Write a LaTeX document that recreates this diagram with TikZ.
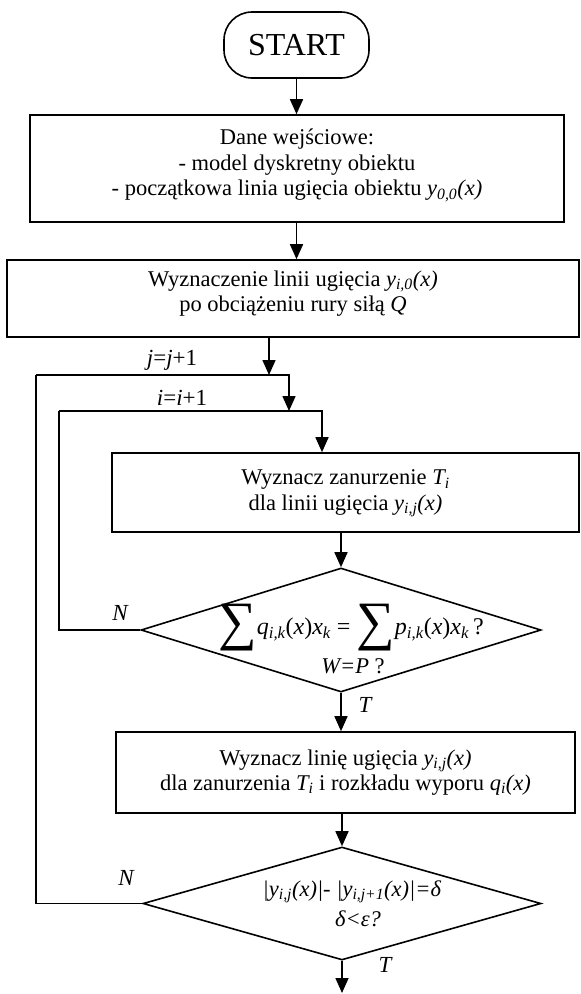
\documentclass[tikz,border=0pt]{standalone}
\usepackage{fontspec}
\setmainfont{Liberation Serif}
\usetikzlibrary{arrows.meta,shapes.geometric,calc}
\newcommand{\sbs}[1]{\textsubscript{\itshape #1}}
\newcommand{\bigsum}{{\fontsize{54}{54}\selectfont\raisebox{-5.5pt}{∑}}}
\begin{document}
\begin{tikzpicture}[x=1pt,y=-1pt,line width=1.6pt,
  txt/.style={font=\fontsize{22.5}{25.5}\selectfont, align=center, inner sep=0pt},
  ftxt/.style={font=\fontsize{24}{26}\selectfont, align=center, inner sep=0pt},
  box/.style={draw, rectangle, inner sep=0pt},
  dia/.style={draw, diamond, inner sep=0pt},
  arr/.style={-{Triangle[length=15pt,width=13pt]}},
  lbl/.style={font=\fontsize{23}{25}\selectfont\itshape, inner sep=0pt}]
\useasboundingbox (0,0) rectangle (581,994);

\node[draw, rounded corners=28pt, minimum width=145pt, minimum height=66pt,
      inner sep=0pt, font=\fontsize{32}{32}\selectfont] (start) at (296.5,45) {START};

\node[box, minimum width=534pt, minimum height=107pt,
  label={[txt, yshift=3pt]center:{Dane wejściowe:\\- model dyskretny obiektu\\- początkowa linia ugięcia obiektu \textit{y\sbs{0,0}(x)}}}]
  (b1) at (297,168.5) {};

\node[box, minimum width=572pt, minimum height=77pt,
  label={[txt, yshift=5pt]center:{Wyznaczenie linii ugięcia \textit{y\sbs{i,0}(x)}\\po obciążeniu rury siłą \textit{Q}}}]
  (b2) at (293,298.5) {};

\node[box, minimum width=467pt, minimum height=79pt,
  label={[txt, yshift=-1pt]center:{Wyznacz zanurzenie \textit{T\sbs{i}}\\dla linii ugięcia \textit{y\sbs{i,j}(x)}}}]
  (b3) at (345.5,492.5) {};

\node[dia, minimum width=400pt, minimum height=124pt,
  label={[ftxt, xshift=10pt, yshift=2pt]center:{\bigsum\textit{q}\sbs{i,k}(\textit{x})\textit{x}\sbs{k} = \bigsum\textit{p}\sbs{i,k}(\textit{x})\textit{x}\sbs{k}\,?}},
  label={[txt, xshift=12pt, yshift=-36pt]center:{\textit{W=P} ?}}]
  (d1) at (341,630) {};

\node[box, minimum width=459pt, minimum height=81pt,
  label={[txt, yshift=0pt]center:{Wyznacz linię ugięcia \textit{y\sbs{i,j}(x)}\\dla zanurzenia \textit{T\sbs{i}} i rozkładu wyporu \textit{q\sbs{i}(x)}}}]
  (b4) at (345.5,772.5) {};

\node[dia, minimum width=398pt, minimum height=113pt,
  label={[txt, xshift=10pt, yshift=12pt]center:{\textit{|y\sbs{i,j}(x)|- |y\sbs{i,j+1}(x)|=δ}}},
  label={[txt, xshift=16pt, yshift=-15.5pt]center:{\textit{δ<ε?}}}]
  (d2) at (342,903.5) {};

\coordinate (jin) at (269,375);
\coordinate (jl) at (36,375);
\coordinate (jr) at (289,375);
\coordinate (il) at (59,411);
\coordinate (ir) at (322,411);
\coordinate (stop) at (342,993);

\node[lbl] (jlab) at (172,360) {j\upshape=\itshape j\upshape+1};
\node[lbl] (ilab) at (182,398) {i\upshape=\itshape i\upshape+1};
\node[lbl] (n1) at (120,613) {N};
\node[lbl] (t1) at (365,705) {T};
\node[lbl] (n2) at (126,878) {N};
\node[lbl] (t2) at (385,965) {T};

\draw[arr] (start.south) -- (start.south |- b1.north);
\draw[arr] (b1.south -| start.south) -- (start.south |- b2.north);
\draw[arr] (b2.south -| jin) -- (jin);
\draw[arr] (jl) -- (jr) -- (jr |- il);
\draw[arr] (il) -- (ir) -- (ir |- b3.north);
\draw[arr] (b3.south -| d1.north) -- (d1.north);
\draw (d1.west) -- (d1.west -| il) -- (il);
\draw[arr] (d1.south) -- (d1.south |- b4.north);
\draw[arr] (b4.south -| d2.north) -- (d2.north);
\draw (d2.west) -- (d2.west -| jl) -- (jl);
\draw[arr] (d2.south) -- (stop);
\end{tikzpicture}
\end{document}
